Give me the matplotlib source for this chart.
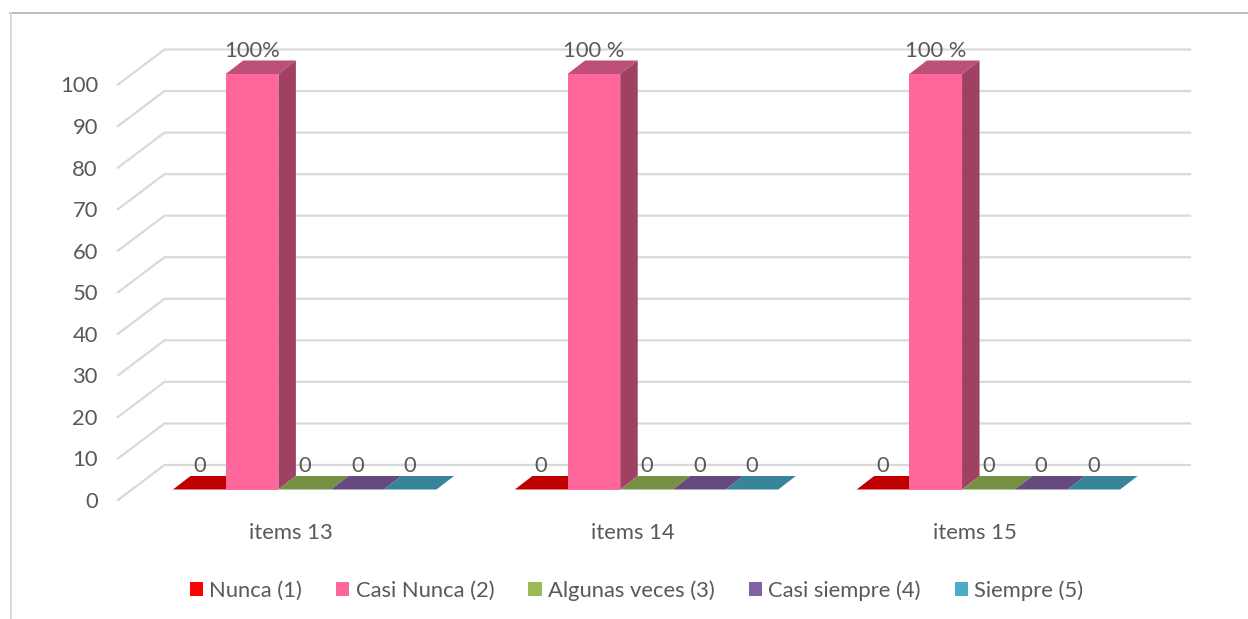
import matplotlib
matplotlib.use("Agg")
import matplotlib.pyplot as plt
from matplotlib.patches import Polygon, Patch
from matplotlib.lines import Line2D

plt.rcParams['font.family'] = ['Lato', 'DejaVu Sans']

categories = ["items 13", "items 14", "items 15"]
series_names = ["Nunca (1)", "Casi Nunca (2)", "Algunas veces (3)", "Casi siempre (4)", "Siempre (5)"]
nunca = [0, 0, 0]
casi_nunca = [100, 100, 100]
algunas = [0, 0, 0]
casi_siempre = [0, 0, 0]
siempre = [0, 0, 0]
series_values = [nunca, casi_nunca, algunas, casi_siempre, siempre]
pink_labels = ["100%", "100 %", "100 %"]
y_ticks = list(range(0, 101, 10))

front_colors = ["#FF0000", "#FF6699", "#9BBB59", "#8064A2", "#4BACC6"]
top_colors = ["#C00000", "#BE4F78", "#769042", "#644A7F", "#37849B"]
side_colors = ["#A00000", "#A04063", "#5F7535", "#503B68", "#2C6A7D"]

W, H = 1248, 619
TXT = "#595959"
GRID = "#D9D9D9"
FS = 15.8

fig = plt.figure(figsize=(W / 100, H / 100), dpi=100, facecolor="white")
px_l, px_r, px_top, px_bot = 118, 1143.5, 84.5, 500
ax = fig.add_axes([px_l / W, 1 - px_bot / H, (px_r - px_l) / W, (px_bot - px_top) / H])
ax.set_xlim(0, 3)
ax.set_ylim(0, 100)
for s in ax.spines.values():
    s.set_visible(False)
ax.patch.set_alpha(0)

sx = (px_r - px_l) / 3      # px per x unit
sy = (px_bot - px_top) / 100  # px per y unit

# wall depth, bar plane offset, bar depth (in data units)
wall_dx, wall_dy = 46.5 / sx, 35 / sy
off_dx, off_dy = 14 / sx, 10.5 / sy
bar_dx, bar_dy = 17.5 / sx, 13.5 / sy
bar_w = 52.7 / sx
group_start = 0.1199

# grid: side wall and back wall
for v in y_ticks:
    ax.plot([0, wall_dx, 3 + wall_dx], [v, v + wall_dy, v + wall_dy],
            color=GRID, lw=1.6, clip_on=False, zorder=1, solid_joinstyle="miter")

for c in range(len(categories)):
    for i, vals in enumerate(series_values):
        v = vals[c]
        x0 = c + group_start + off_dx + i * bar_w
        base = off_dy
        ax.bar(x0, v, width=bar_w, bottom=base, align="edge", color=front_colors[i],
               clip_on=False, zorder=3 + 0.01 * i)
        top = v + base
        ax.add_patch(Polygon([(x0, top), (x0 + bar_w, top), (x0 + bar_w + bar_dx, top + bar_dy),
                              (x0 + bar_dx, top + bar_dy)], closed=True, fc=top_colors[i], ec="none",
                             clip_on=False, zorder=3 + 0.01 * i))
        if v > 0:
            ax.add_patch(Polygon([(x0 + bar_w, base), (x0 + bar_w + bar_dx, base + bar_dy),
                                  (x0 + bar_w + bar_dx, top + bar_dy), (x0 + bar_w, top)],
                                 closed=True, fc=side_colors[i], ec="none", clip_on=False,
                                 zorder=3 + 0.01 * i))
        label = pink_labels[c] if v > 0 else str(v)
        ax.text(x0 + bar_w / 2, top + 23 / sy, label, ha="center", va="center",
                fontsize=FS, color=TXT, zorder=6, clip_on=False)

ax.set_yticks(y_ticks)
ax.set_xticks([c + 0.5 + 2 / sx for c in range(len(categories))])
ax.set_xticklabels(categories)
ax.tick_params(axis="y", length=0, pad=14.5, labelsize=FS, labelcolor=TXT)
ax.tick_params(axis="x", length=0, pad=16.5, labelsize=FS, labelcolor=TXT)

handles = [Patch(fc=col, ec="none") for col in front_colors]
fig.legend(handles, series_names, loc="center", bbox_to_anchor=(636.5 / W, 1 - 590.5 / H), ncol=5,
           frameon=False, fontsize=FS, labelcolor=TXT, handlelength=0.6, handleheight=0.6,
           handletextpad=0.28, columnspacing=1.56, borderpad=0)

# outer frame of the pasted chart
fig.add_artist(Line2D([10 / W, 1], [1 - 12.5 / H, 1 - 12.5 / H], color="#BFBFBF", lw=1.4,
                      transform=fig.transFigure))
fig.add_artist(Line2D([11 / W, 11 / W], [0, 1 - 12.5 / H], color="#D9D9D9", lw=1.4,
                      transform=fig.transFigure))

fig.savefig("out.png", dpi=100, facecolor="white")
